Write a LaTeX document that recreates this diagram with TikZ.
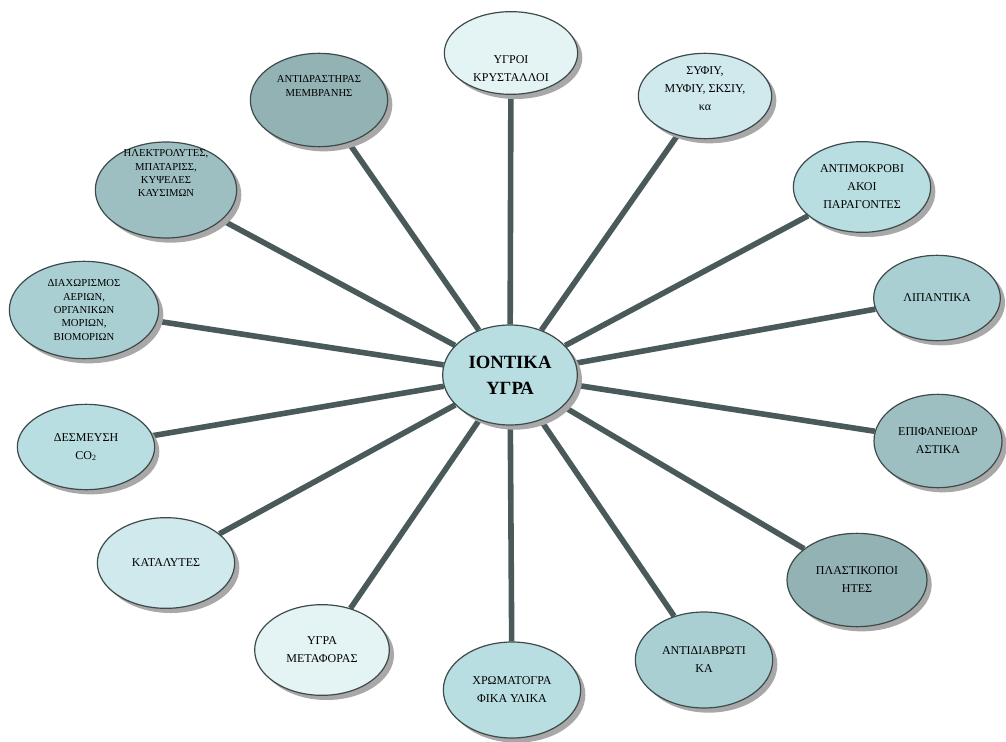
\documentclass[tikz,border=0pt]{standalone}
\usepackage{fontspec}
\setmainfont{Liberation Serif}
\usepackage{tikz}
\usetikzlibrary{shapes.geometric, shadows, backgrounds}
\definecolor{bubA}{HTML}{E4F3F4}
\definecolor{bubB}{HTML}{CFE9EC}
\definecolor{bubC}{HTML}{B8DEE2}
\definecolor{bubD}{HTML}{A9CFD3}
\definecolor{bubE}{HTML}{9DBFC1}
\definecolor{bubF}{HTML}{93B2B4}
\definecolor{spokeGray}{HTML}{4A5959}
\definecolor{rimGray}{HTML}{3E4A4A}
\definecolor{shadeGray}{HTML}{A8A8A8}
\newcommand{\liftbox}[2]{\raisebox{#1}[0pt][0pt]{\begin{tabular}{@{}c@{}}#2\end{tabular}}}

\begin{document}
\begin{tikzpicture}[
    x=0.75pt, y=-0.75pt,
    bubble/.style={
        ellipse,
        draw=rimGray,
        line width=0.9pt,
        fill=#1,
        inner sep=0pt,
        align=center,
        font=\fontsize{9}{13.5}\selectfont,
        drop shadow={shadow xshift=3.5pt, shadow yshift=-3.5pt, fill=shadeGray, opacity=1}
    },
    small/.style={font=\fontsize{8}{10}\selectfont},
    spoke/.style={line width=4.2pt, spokeGray}
]
    \useasboundingbox (0,0) rectangle (1006,742);

    % Hub
    \node[bubble=bubC, minimum width=101pt, minimum height=75pt,
        font=\fontsize{14}{19.5}\selectfont\bfseries] (hub) at (510,375)
        {ΙΟΝΤΙΚΑ\\ΥΓΡΑ};

    % Satellites, clockwise from the top
    \node[bubble=bubA, minimum width=100pt, minimum height=62pt] (crystals) at (511,53)
        {\liftbox{-14pt}{ΥΓΡΟΙ\\ΚΡΥΣΤΑΛΛΟΙ}};
    \node[bubble=bubB, minimum width=100pt, minimum height=64pt] (sfc) at (705,96)
        {\liftbox{3pt}{ΣΥΦΙΥ,\\ΜΥΦΙΥ, ΣΚΣΙΥ,\\κα}};
    \node[bubble=bubC, minimum width=103pt, minimum height=68pt] (antistatic) at (862,187)
        {ΑΝΤΙΜΟΚΡΟΒΙ\\ΑΚΟΙ\\ΠΑΡΑΓΟΝΤΕΣ};
    \node[bubble=bubD, minimum width=95pt, minimum height=64pt] (lubricants) at (937,298)
        {ΛΙΠΑΝΤΙΚΑ};
    \node[bubble=bubE, minimum width=96pt, minimum height=70pt] (surfactants) at (938,441)
        {ΕΠΙΦΑΝΕΙΟΔΡ\\ΑΣΤΙΚΑ};
    \node[bubble=bubF, minimum width=105pt, minimum height=70pt] (plasticizers) at (857,580)
        {ΠΛΑΣΤΙΚΟΠΟΙ\\ΗΤΕΣ};
    \node[bubble=bubD, minimum width=103pt, minimum height=72pt] (anticorrosion) at (704,660)
        {ΑΝΤΙΔΙΑΒΡΩΤΙ\\ΚΑ};
    \node[bubble=bubC, minimum width=103pt, minimum height=72pt] (chromato) at (512,690)
        {ΧΡΩΜΑΤΟΓΡΑ\\ΦΙΚΑ ΥΛΙΚΑ};
    \node[bubble=bubA, minimum width=101pt, minimum height=68pt] (transfer) at (322,650)
        {ΥΓΡΑ\\ΜΕΤΑΦΟΡΑΣ};
    \node[bubble=bubB, minimum width=103pt, minimum height=68pt] (catalysts) at (166,563)
        {ΚΑΤΑΛΥΤΕΣ};
    \node[bubble=bubC, minimum width=103pt, minimum height=64pt] (capture) at (86,447)
        {ΔΕΣΜΕΥΣΗ\\CO\textsubscript{2}};
    \node[bubble=bubD, small, minimum width=112pt, minimum height=73pt] (separation) at (84,310)
        {ΔΙΑΧΩΡΙΣΜΟΣ\\ΑΕΡΙΩΝ,\\ΟΡΓΑΝΙΚΩΝ\\ΜΟΡΙΩΝ,\\ΒΙΟΜΟΡΙΩΝ};
    \node[bubble=bubE, small, minimum width=106pt, minimum height=72pt] (electrolytes) at (166,190)
        {\liftbox{10pt}{ΗΛΕΚΤΡΟΛΥΤΕΣ,\\ΜΠΑΤΑΡΙΣΣ,\\ΚΥΨΕΛΕΣ\\ΚΑΥΣΙΜΩΝ}};
    \node[bubble=bubF, small, minimum width=103pt, minimum height=70pt] (reactor) at (319,100)
        {\liftbox{8pt}{ΑΝΤΙΔΡΑΣΤΗΡΑΣ\\ΜΕΜΒΡΑΝΗΣ}};

    % Spokes
    \begin{scope}[on background layer]
        \draw[spoke] (hub) -- (crystals);
        \draw[spoke] (hub) -- (sfc);
        \draw[spoke] (hub) -- (antistatic);
        \draw[spoke] (hub) -- (lubricants);
        \draw[spoke] (hub) -- (surfactants);
        \draw[spoke] (hub) -- (plasticizers);
        \draw[spoke] (hub) -- (anticorrosion);
        \draw[spoke] (hub) -- (chromato);
        \draw[spoke] (hub) -- (transfer);
        \draw[spoke] (hub) -- (catalysts);
        \draw[spoke] (hub) -- (capture);
        \draw[spoke] (hub) -- (separation);
        \draw[spoke] (hub) -- (electrolytes);
        \draw[spoke] (hub) -- (reactor);
    \end{scope}

\end{tikzpicture}
\end{document}
